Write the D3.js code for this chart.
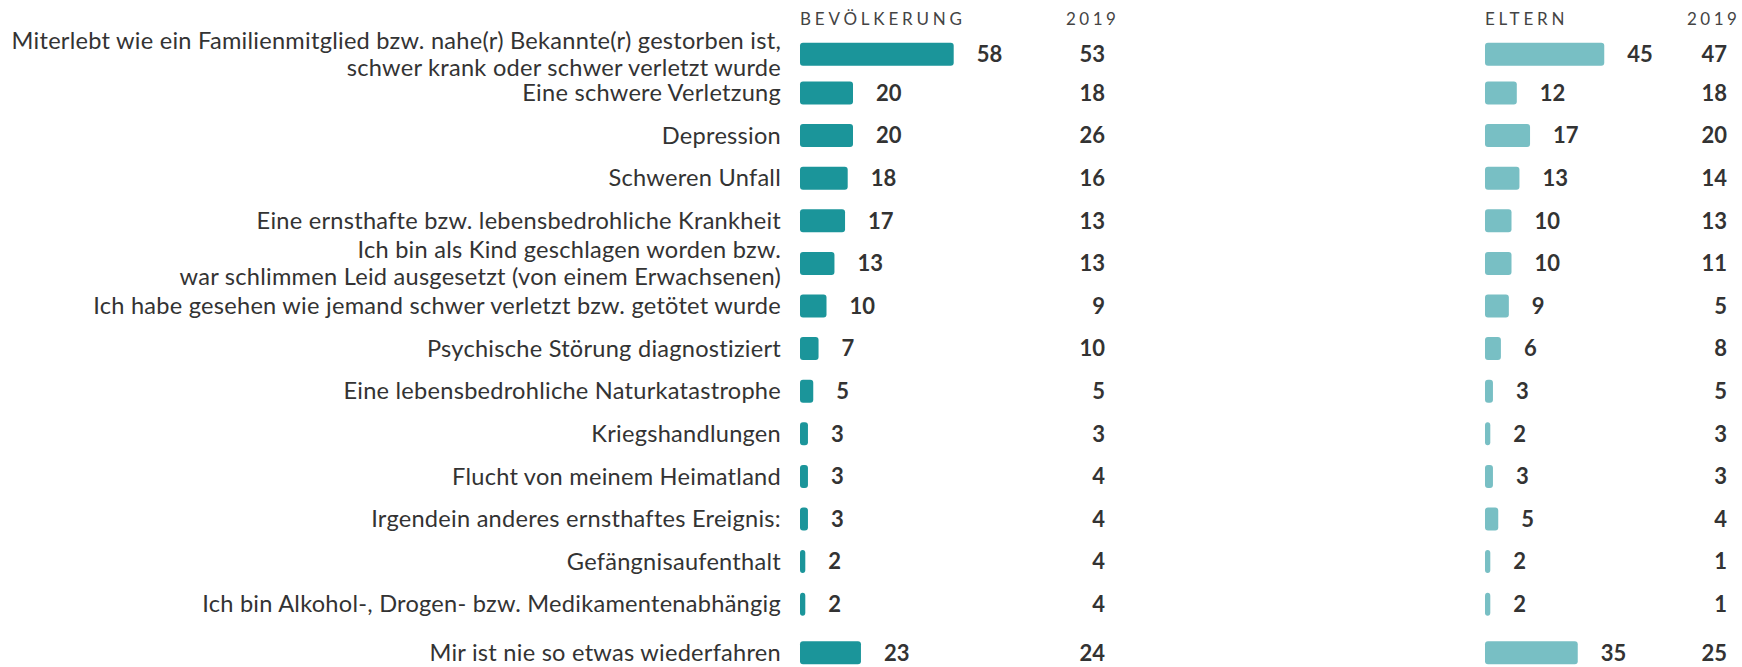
<!DOCTYPE html>
<html lang="de">
<head>
<meta charset="utf-8">
<script src="https://cdn.jsdelivr.net/npm/d3@7"></script>
<style>
  html, body { margin: 0; padding: 0; background: #ffffff; }
  svg { display: block; font-family: Lato, "Open Sans", sans-serif; }
</style>
</head>
<body>
<svg id="chart" width="1742" height="667"></svg>
<script>
// Erlebte Ereignisse (Angaben in %), Bevölkerung vs. Eltern, mit Vergleichswerten 2019
const categories = [
  ["Miterlebt wie ein Familienmitglied bzw. nahe(r) Bekannte(r) gestorben ist,", "schwer krank oder schwer verletzt wurde"],
  ["Eine schwere Verletzung"],
  ["Depression"],
  ["Schweren Unfall"],
  ["Eine ernsthafte bzw. lebensbedrohliche Krankheit"],
  ["Ich bin als Kind geschlagen worden bzw.", "war schlimmen Leid ausgesetzt (von einem Erwachsenen)"],
  ["Ich habe gesehen wie jemand schwer verletzt bzw. getötet wurde"],
  ["Psychische Störung diagnostiziert"],
  ["Eine lebensbedrohliche Naturkatastrophe"],
  ["Kriegshandlungen"],
  ["Flucht von meinem Heimatland"],
  ["Irgendein anderes ernsthaftes Ereignis:"],
  ["Gefängnisaufenthalt"],
  ["Ich bin Alkohol-, Drogen- bzw. Medikamentenabhängig"],
  ["Mir ist nie so etwas wiederfahren"]
];
const bevoelkerung     = [58, 20, 20, 18, 17, 13, 10, 7, 5, 3, 3, 3, 2, 2, 23];
const bevoelkerung2019 = [53, 18, 26, 16, 13, 13, 9, 10, 5, 3, 4, 4, 4, 4, 24];
const eltern           = [45, 12, 17, 13, 10, 10, 9, 6, 3, 2, 3, 5, 2, 2, 35];
const eltern2019       = [47, 18, 20, 14, 13, 11, 5, 8, 5, 3, 3, 4, 1, 1, 25];
const panelTitles = ["BEVÖLKERUNG", "ELTERN"];
const compareTitle = "2019";

const svg = d3.select("#chart");
const textColor = "#333333";

// rows: the first row leaves room below the headers, the last row ("nie so etwas")
// sits slightly apart from the events
const rowIds = d3.range(categories.length);
const lastId = rowIds[rowIds.length - 1];
const y = d3.scaleBand().domain(rowIds).range([29.1, 29.1 + 15 * 42.6]);
const firstGap = 3.8;
const lastGap = 6;
const rowY = i => y(i) + y.bandwidth() / 2 + (i === 0 ? firstGap : 0) + (i === lastId ? lastGap : 0);
const barH = 23;

// category labels, right aligned next to the first panel
const labelX = 781;
const lineH = 27;
const lab = svg.append("g")
  .attr("font-size", 23.6)
  .attr("letter-spacing", "0.25px")
  .attr("fill", textColor)
  .attr("text-anchor", "end");
categories.forEach((lines, i) => {
  const t = lab.append("text").attr("x", labelX);
  lines.forEach((ln, k) => {
    t.append("tspan")
      .attr("x", labelX)
      .attr("y", rowY(i) + (k - (lines.length - 1) / 2) * lineH)
      .attr("dy", "0.35em")
      .text(ln);
  });
});

const panels = [
  { title: panelTitles[0], values: bevoelkerung, prev: bevoelkerung2019, x0: 800, prevRight: 1105, prevTitleX: 1066, color: "#1b959a" },
  { title: panelTitles[1], values: eltern,       prev: eltern2019,       x0: 1485, prevRight: 1727, prevTitleX: 1687, color: "#78bfc4" }
];

panels.forEach(p => {
  const x = d3.scaleLinear().domain([0, 100]).range([p.x0, p.x0 + 265]);
  const g = svg.append("g");

  // headers
  g.append("text")
    .attr("x", x(0)).attr("y", 25)
    .attr("font-size", 17).attr("letter-spacing", "3.8px")
    .attr("fill", "#444").text(p.title);
  g.append("text")
    .attr("x", p.prevTitleX).attr("y", 25)
    .attr("font-size", 17).attr("letter-spacing", "3.5px")
    .attr("fill", "#444").text(compareTitle);

  // bars
  g.selectAll("rect.bar").data(p.values).join("rect")
    .attr("class", "bar")
    .attr("x", x(0))
    .attr("y", (d, i) => rowY(i) - barH / 2)
    .attr("width", d => x(d) - x(0))
    .attr("height", barH)
    .attr("rx", 3).attr("ry", 3)
    .attr("fill", p.color);

  // value labels
  g.selectAll("text.val").data(p.values).join("text")
    .attr("class", "val")
    .attr("x", d => x(d) + 23)
    .attr("y", (d, i) => rowY(i))
    .attr("dy", "0.35em")
    .attr("font-size", 22).attr("font-weight", 700)
    .attr("fill", textColor)
    .text(d => d);

  // 2019 comparison values
  g.selectAll("text.prev").data(p.prev).join("text")
    .attr("class", "prev")
    .attr("x", p.prevRight)
    .attr("y", (d, i) => rowY(i))
    .attr("dy", "0.35em")
    .attr("text-anchor", "end")
    .attr("font-size", 22).attr("font-weight", 700)
    .attr("fill", textColor)
    .text(d => d);
});
</script>
</body>
</html>
